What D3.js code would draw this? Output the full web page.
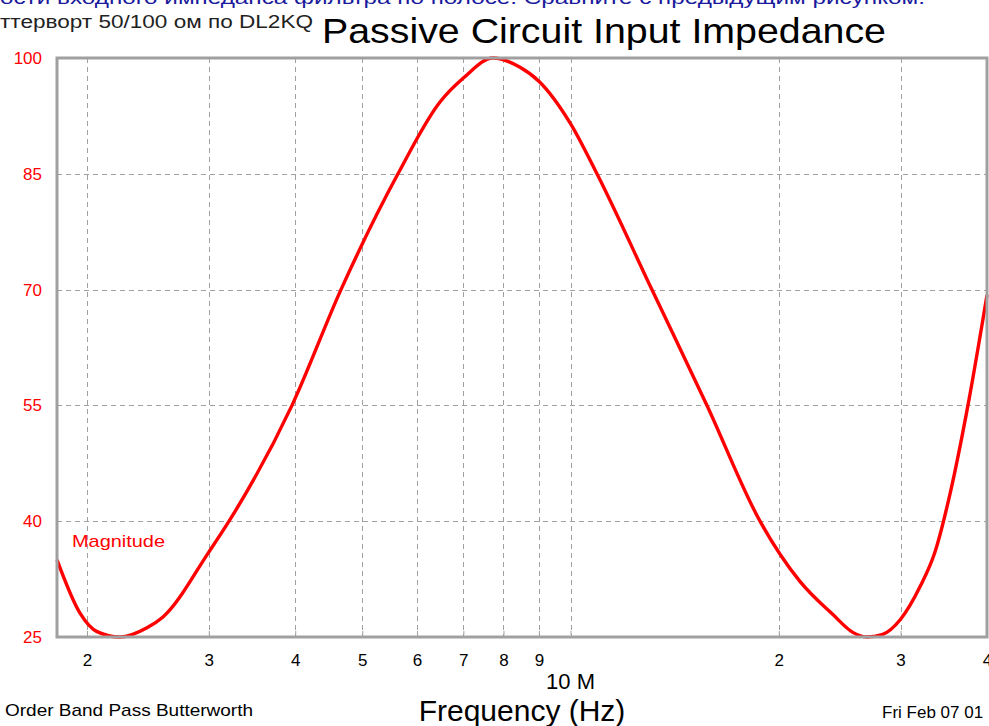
<!DOCTYPE html>
<html><head><meta charset="utf-8">
<script src="https://cdn.jsdelivr.net/npm/d3@7"></script>
<style>html,body{margin:0;padding:0;background:#fff;overflow:hidden}</style>
</head><body>
<script>
// Frequencies in MHz, magnitude (ohms)
const freqMHz   = [1.810, 1.954, 2.068, 2.232, 2.442, 2.576, 3.000, 3.209, 3.957, 4.658, 5.631, 6.476, 7.000, 7.725, 8.453, 9.000, 10.00, 10.92, 13.11, 15.75, 18.79, 21.46, 23.95, 25.59, 26.82, 28.20, 30.00, 32.00, 33.64, 35.36, 37.54, 40.00];
const magnitude = [35.0,  28.1,  25.7,  25.0,  26.2,  27.6,  36.0,  40.0,  55.0,  70.0,  85.0,  94.3,  97.4,  100.0, 98.8,  97.0,  91.5,  85.0,  70.0,  55.0,  40.0,  32.2,  27.9,  25.6,  25.0,  25.3,  27.3,  31.5,  36.0,  43.5,  55.0,  69.3];
const xTickValues = [2, 3, 4, 5, 6, 7, 8, 9, 10, 20, 30, 40];
const xTickLabels = ["2", "3", "4", "5", "6", "7", "8", "9", "", "2", "3", "4"];
const yTickValues = [25, 40, 55, 70, 85, 100];

const W = 989, H = 726;
const svg = d3.select("body").append("svg").attr("width", W).attr("height", H);
const font = "'Liberation Sans', Arial, sans-serif";

const x = d3.scaleLog().domain([1.81, 40]).range([57, 987]);
const y = d3.scaleLinear().domain([25, 100]).range([637, 58]);

// header texts
svg.append("text").attr("x", 0).attr("y", 4).attr("font-family", font).attr("font-size", 18)
  .attr("fill", "#1a1a9c").attr("textLength", 925).attr("lengthAdjust", "spacingAndGlyphs")
  .text("ости входного импеданса фильтра по полосе. Сравните с предыдущим рисунком.");
svg.append("text").attr("x", 0).attr("y", 28).attr("font-family", font).attr("font-size", 18)
  .attr("fill", "#222").attr("textLength", 313).attr("lengthAdjust", "spacingAndGlyphs")
  .text("ттерворт 50/100 ом по DL2KQ");
svg.append("text").attr("x", 322).attr("y", 43).attr("font-family", font).attr("font-size", 35)
  .attr("fill", "#000").attr("textLength", 564).attr("lengthAdjust", "spacingAndGlyphs")
  .text("Passive Circuit Input Impedance");

// grid
const grid = svg.append("g").attr("stroke", "#a0a0a0").attr("stroke-width", 1).attr("stroke-dasharray", "5,4");
xTickValues.filter(v => v < 40).forEach(v => {
  grid.append("line").attr("x1", Math.round(x(v)) + 0.5).attr("x2", Math.round(x(v)) + 0.5)
    .attr("y1", 58).attr("y2", 637);
});
yTickValues.filter(v => v > 25 && v < 100).forEach(v => {
  grid.append("line").attr("y1", Math.round(y(v)) + 0.5).attr("y2", Math.round(y(v)) + 0.5)
    .attr("x1", 57).attr("x2", 987);
});

// curve
const pts = freqMHz.map((f, i) => [f, magnitude[i]]);
svg.append("path").datum(pts)
  .attr("d", d3.line().x(d => x(d[0])).y(d => y(d[1])).curve(d3.curveMonotoneX))
  .attr("fill", "none").attr("stroke", "#ff0000").attr("stroke-width", 3.4)
  .attr("stroke-linejoin", "round");

// frame
svg.append("rect").attr("x", 57).attr("y", 58).attr("width", 930).attr("height", 579)
  .attr("fill", "none").attr("stroke", "#a0a0a0").attr("stroke-width", 3);

// x axis
const xAxis = d3.axisBottom(x).tickValues(xTickValues).tickSize(0).tickPadding(17)
  .tickFormat((d, i) => xTickLabels[i]);
const gx = svg.append("g").attr("transform", "translate(0,637)").call(xAxis);
gx.select(".domain").remove();
gx.selectAll("text").attr("font-family", font).attr("font-size", 17).attr("fill", "#000");
gx.selectAll(".tick").append("line").attr("y1", -2).attr("y2", -6).attr("stroke", "#a0a0a0");
svg.append("text").attr("x", x(10)).attr("y", 689).attr("text-anchor", "middle")
  .attr("font-family", font).attr("font-size", 22).attr("fill", "#000").text("10 M");

// y axis
const yAxis = d3.axisLeft(y).tickValues(yTickValues).tickSize(0).tickPadding(15);
const gy = svg.append("g").attr("transform", "translate(57,0)").call(yAxis);
gy.select(".domain").remove();
gy.selectAll("text").attr("font-family", font).attr("font-size", 17).attr("fill", "#ff0000");

// labels
svg.append("text").attr("x", 72).attr("y", 547).attr("font-family", font).attr("font-size", 17)
  .attr("fill", "#ff0000").attr("textLength", 93).attr("lengthAdjust", "spacingAndGlyphs").text("Magnitude");
svg.append("text").attr("x", 5).attr("y", 716).attr("font-family", font).attr("font-size", 17)
  .attr("fill", "#000").attr("textLength", 248).attr("lengthAdjust", "spacingAndGlyphs")
  .text("Order Band Pass Butterworth");
svg.append("text").attr("x", 522).attr("y", 721).attr("text-anchor", "middle").attr("font-family", font)
  .attr("font-size", 30).attr("fill", "#000").text("Frequency (Hz)");
svg.append("text").attr("x", 882).attr("y", 718).attr("font-family", font).attr("font-size", 17)
  .attr("fill", "#000").text("Fri Feb 07 01");
</script>
</body></html>
